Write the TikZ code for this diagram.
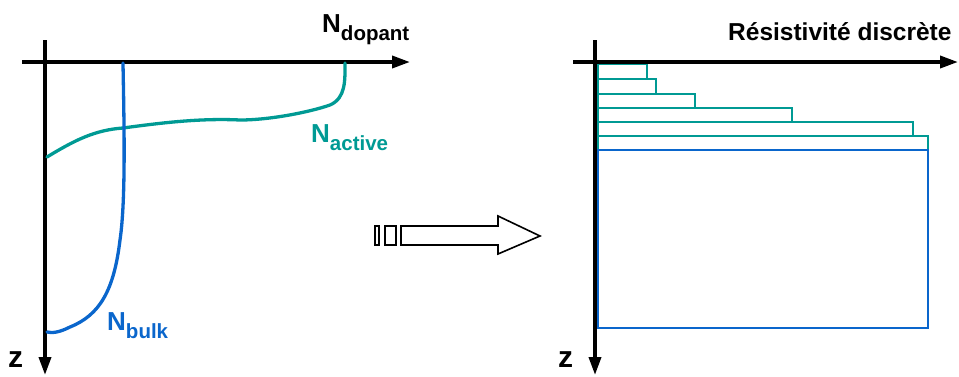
\documentclass[tikz,border=0pt]{standalone}
\usepackage{fontspec}
\setmainfont{Liberation Sans}
\usetikzlibrary{arrows.meta}
\definecolor{teal1}{HTML}{009A94}
\definecolor{blue1}{HTML}{0A66CC}
\begin{document}
\begin{tikzpicture}[x=1pt,y=-1pt,
  axis/.style={line width=3.6pt,-{Triangle[length=18pt,width=12pt]}},
  lbl/.style={inner sep=0pt,anchor=base west,font=\bfseries\fontsize{26}{26}\selectfont},
  layer/.style={draw=teal1,line width=2pt},
  curve/.style={line width=3.3pt,line cap=round}]
\useasboundingbox (0,0) rectangle (959,376);
% left axes
\coordinate (lxs) at (22,62); \coordinate (lxe) at (410,62);
\coordinate (lys) at (45,40); \coordinate (lye) at (45,375);
\draw[axis] (lxs) -- (lxe);
\draw[axis] (lys) -- (lye);
% curves
\draw[curve,teal1] (47,157) .. controls (75,140) and (95,130) .. (123,128)
  .. controls (160,123) and (200,118) .. (240,120)
  .. controls (270,120) and (310,112) .. (330,105)
  .. controls (346,98) and (345,80) .. (345,63);
\draw[curve,blue1] (123,63) .. controls (124,120) and (126,200) .. (120,240)
  .. controls (114,290) and (100,315) .. (70,327)
  .. controls (58,333) and (52,333) .. (47,332);
% labels
\node[lbl] (ndop) at (322,32) {N\raisebox{-8pt}{\fontsize{20.5}{20}\selectfont dopant}};
\node[lbl,teal1] (nact) at (311,142) {N\raisebox{-8pt}{\fontsize{20.5}{20}\selectfont active}};
\node[lbl,blue1] (nbulk) at (107,330) {N\raisebox{-8pt}{\fontsize{20.5}{20}\selectfont bulk}};
\node[lbl,font=\bfseries\fontsize{30}{30}\selectfont] (zl) at (8,367) {z};
% block arrow
\draw[line width=1.6pt] (375,226) rectangle (379,245);
\draw[line width=1.6pt] (385,226) rectangle (396,245);
\draw[line width=1.6pt,line join=miter] (401,226) -- (498,226) -- (498,216) -- (540,236) -- (498,254) -- (498,245) -- (401,245) -- cycle;
% right panel
\draw[layer] (598,64) rectangle (647,79);
\draw[layer] (598,79) rectangle (656,94);
\draw[layer] (598,94) rectangle (695,108);
\draw[layer] (598,108) rectangle (792,122);
\draw[layer] (598,122) rectangle (913,136);
\draw[layer] (598,136) rectangle (928,150);
\draw[draw=blue1,line width=2pt] (598,150) rectangle (928,328);
\coordinate (rxs) at (573,62); \coordinate (rxe) at (958,62);
\coordinate (rys) at (595,40); \coordinate (rye) at (595,375);
\draw[axis] (rxs) -- (rxe);
\draw[axis] (rys) -- (rye);
\node[lbl,font=\bfseries\fontsize{24.5}{25}\selectfont] (title) at (728,40) {Résistivité discrète};
\node[lbl,font=\bfseries\fontsize{30}{30}\selectfont] (zr) at (558,367) {z};
\end{tikzpicture}
\end{document}
